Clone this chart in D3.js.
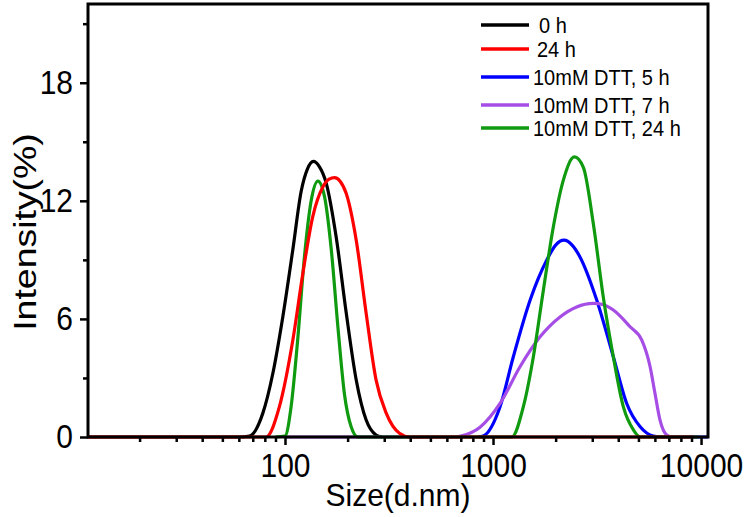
<!DOCTYPE html>
<html>
<head>
<meta charset="utf-8">
<script src="https://cdn.jsdelivr.net/npm/d3@7"></script>
<style>
  html, body { margin: 0; padding: 0; background: #fff; }
  svg { display: block; }
  text { font-family: "Liberation Sans", Arial, sans-serif; fill: #000; }
</style>
</head>
<body>
<svg id="chart" width="748" height="517"></svg>
<script>
// ---- data (size in d.nm, intensity in %) ----
const seriesNames = ["0 h", "24 h", "10mM DTT, 5 h", "10mM DTT, 7 h", "10mM DTT, 24 h"];
const seriesColors = ["#000000", "#ff0000", "#0000ff", "#a64de6", "#109a10"];

const black0h = [[11.3,0],[60,0],[67.5,0.05],[78.2,1.2],[87.3,3.2],[97.6,6.1],[109,9.5],[119.7,12.5],[128,13.6],[137,14.0],[146,13.75],[157.8,12.9],[176,10.2],[197,6.3],[220,2.9],[245.6,0.86],[274,0.1],[292,0]];
const red24h = [[11.3,0],[81,0],[94,1.54],[109,4.9],[121.8,8.3],[136,11.2],[152,12.7],[163,13.1],[173,13.18],[184,13.0],[197,12.37],[220,10.0],[245.6,6.28],[274,2.9],[307,1.2],[355,0.19],[397,0],[9200,0]];
const blueDTT5h = [[850,0],[898,0.05],[1081,1.54],[1252,4.08],[1507,6.95],[1811,8.98],[2000,9.75],[2193,10.0],[2400,9.75],[2618,9.15],[3154,6.95],[3787,4.08],[4392,1.7],[5097,0.52],[5894,0.05],[6500,0],[10800,0]];
const purpleDTT7h = [[100,0],[225,0],[660,0],[700,0.05],[866,0.5],[1081,1.71],[1348,3.57],[1683,5.09],[2099,6.1],[2523,6.61],[3034,6.79],[3400,6.72],[3787,6.45],[4560,5.6],[5190,4.92],[5690,3.57],[6010,2.2],[6350,0.86],[6840,0.1],[7200,0]];
const greenDTT24h = [[90,0],[100,0.05],[107,1.54],[115,4.9],[124,9.15],[133.6,12.0],[144,13.0],[155,12.2],[167,9.5],[179.6,5.6],[193,2.2],[208,0.52],[224,0],[1230,0],[1399,1.54],[1563,4.08],[1746,7.46],[1950,10.68],[2178,13.05],[2461,14.23],[2718,13.7],[3034,10.85],[3388,7.12],[3787,4.08],[4230,1.54],[4730,0.36],[5100,0],[9700,0]];

const seriesData = [black0h, red24h, blueDTT5h, purpleDTT7h, greenDTT24h];
const drawOrder = [0, 2, 3, 4, 1];

const xMajorTicks = [100, 1000, 10000];
const yMajorTicks = [0, 6, 12, 18];
const yMinorTicks = [3, 9, 15, 21];
const xDomain = [11.3, 10800];
const yDomain = [0, 22];

// ---- layout ----
const svg = d3.select("#chart");
const plot = { left: 88, right: 708, top: 4, bottom: 437 };

const x = d3.scaleLog().domain(xDomain).range([plot.left, plot.right]);
const y = d3.scaleLinear().domain(yDomain).range([plot.bottom, plot.top]);

const xMinorTicks = [];
[10, 100, 1000].forEach(dec => { for (let k = 2; k <= 9; k++) { const v = dec * k; if (v >= xDomain[0] && v <= xDomain[1]) xMinorTicks.push(v); } });

// curves
const line = d3.line().x(d => x(d[0])).y(d => y(d[1])).curve(d3.curveMonotoneX);
const gLines = svg.append("g");
drawOrder.forEach(i => {
  gLines.append("path")
    .datum(seriesData[i])
    .attr("d", line)
    .attr("fill", "none")
    .attr("stroke", seriesColors[i])
    .attr("stroke-width", 3.2)
    .attr("stroke-linejoin", "round");
});

// frame
svg.append("rect")
  .attr("x", plot.left).attr("y", plot.top)
  .attr("width", plot.right - plot.left).attr("height", plot.bottom - plot.top)
  .attr("fill", "none").attr("stroke", "#000").attr("stroke-width", 3);

// x axis
const xAxis = d3.axisBottom(x).tickValues(xMajorTicks).tickFormat(d3.format("d")).tickSize(8).tickPadding(6);
const gx = svg.append("g").attr("transform", `translate(0,${plot.bottom})`).call(xAxis);
const xMinorAxis = d3.axisBottom(x).tickValues(xMinorTicks).tickFormat("").tickSize(5);
const gxm = svg.append("g").attr("transform", `translate(0,${plot.bottom})`).call(xMinorAxis);

// y axis
const yAxis = d3.axisLeft(y).tickValues(yMajorTicks).tickSize(8).tickPadding(7);
const gy = svg.append("g").attr("transform", `translate(${plot.left},0)`).call(yAxis);
const yMinorAxis = d3.axisLeft(y).tickValues(yMinorTicks).tickFormat("").tickSize(5);
const gym = svg.append("g").attr("transform", `translate(${plot.left},0)`).call(yMinorAxis);

[gx, gxm, gy, gym].forEach(g => {
  g.select(".domain").remove();
  g.selectAll(".tick line").attr("stroke", "#000").attr("stroke-width", 2.5);
  g.selectAll(".tick text")
    .style("font-family", '"Liberation Sans", Arial, sans-serif')
    .style("font-size", "30px").attr("fill", "#000")
    .attr("transform", "scale(1,1.12)");
});

// axis titles
svg.append("text")
  .attr("transform", "translate(398,506) scale(1,1.05)")
  .attr("text-anchor", "middle")
  .style("font-size", "30px")
  .text("Size(d.nm)");

svg.append("text")
  .attr("transform", "translate(36,232) rotate(-90) scale(1.17,1)")
  .attr("text-anchor", "middle")
  .style("font-size", "32px")
  .text("Intensity(%)");

// legend
const legendRows = [25, 49, 77, 105, 128];
const legendTextX = [539, 537, 533, 533, 533];
const lg = svg.append("g");
seriesNames.forEach((name, i) => {
  lg.append("line")
    .attr("x1", 481).attr("x2", 529)
    .attr("y1", legendRows[i]).attr("y2", legendRows[i])
    .attr("stroke", seriesColors[i]).attr("stroke-width", 3.5);
  lg.append("text")
    .attr("transform", `translate(${legendTextX[i]},${legendRows[i]}) scale(1,1.1)`)
    .attr("dy", "0.36em")
    .style("font-size", "20px")
    .text(name);
});
</script>
</body>
</html>
